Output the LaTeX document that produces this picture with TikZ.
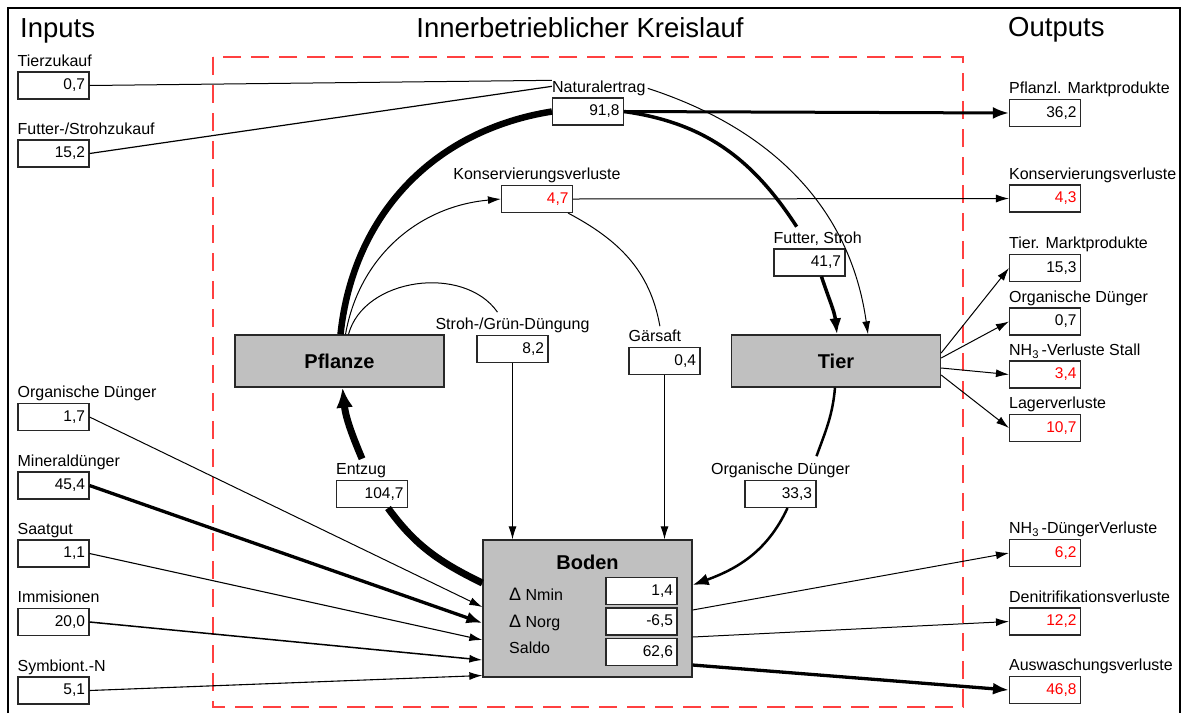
\documentclass[tikz,border=0pt]{standalone}
\usepackage{fontspec}
\setmainfont{Liberation Sans}
\usepackage{tikz}
\usetikzlibrary{arrows.meta, positioning}

\definecolor{blockgrau}{RGB}{192,192,192}
\definecolor{rahmenrot}{RGB}{255,64,64}
\definecolor{kante}{RGB}{40,40,40}

\newcommand{\delt}{{\fontsize{18}{18}\selectfont Δ}}

\tikzset{
  wert/.style={draw=kante, line width=1.1pt, fill=white, minimum width=71pt, minimum height=27pt,
    text width=63pt, align=right, inner xsep=4pt, inner ysep=0pt, font=\fontsize{15.5}{16}\selectfont},
  verlust/.style={wert, text=red},
  lbl/.style={inner sep=0pt, font=\fontsize{16}{17}\selectfont},
  titel/.style={inner sep=0pt, font=\fontsize{27.5}{29}\selectfont},
  block/.style={draw=kante, line width=1.3pt, fill=blockgrau, minimum width=209pt, minimum height=52pt,
    font=\bfseries\fontsize{20}{22}\selectfont},
  fluss/.style={line width=1pt, -{Latex[length=13pt,width=8pt]}},
  dickpfeil/.style={-{Latex[length=16pt,width=12pt]}},
}

\begin{document}
\begin{tikzpicture}[x=1pt, y=-1pt]
  \useasboundingbox (0,0) rectangle (1182,713);
  \draw[line width=2.5pt] (8,713) -- (8,8) -- (1180,8) -- (1180,713);
  \draw[rahmenrot, line width=2pt, dash pattern=on 18pt off 10pt] (213,57) rectangle (963,707);

  \node[titel, anchor=base west] (tin) at (20,37) {Inputs};
  \node[titel, anchor=base] (tkr) at (580,37) {Innerbetrieblicher Kreislauf};
  \node[titel, anchor=base west] (tout) at (1008,36) {Outputs};

  % inputs
  \node[wert] (tz) at (53.5,85.5) {0,7};
  \node[wert] (fz) at (53.5,153.5) {15,2};
  \node[wert] (od) at (53.5,417) {1,7};
  \node[wert] (md) at (53.5,485.5) {45,4};
  \node[wert] (sg) at (53.5,553.5) {1,1};
  \node[wert] (im) at (53.5,622) {20,0};
  \node[wert] (sy) at (53.5,690.5) {5,1};
  \node[lbl, above right=5pt and 0pt of tz.north west, anchor=base west] (tzl) {Tierzukauf};
  \node[lbl, above right=5pt and 0pt of fz.north west, anchor=base west] (fzl) {Futter-/Strohzukauf};
  \node[lbl, above right=5pt and 0pt of od.north west, anchor=base west] (odl) {Organische Dünger};
  \node[lbl, above right=5pt and 0pt of md.north west, anchor=base west] (mdl) {Mineraldünger};
  \node[lbl, above right=5pt and 0pt of sg.north west, anchor=base west] (sgl) {Saatgut};
  \node[lbl, above right=5pt and 0pt of im.north west, anchor=base west] (iml) {Immisionen};
  \node[lbl, above right=5pt and 0pt of sy.north west, anchor=base west] (syl) {Symbiont.-N};

  % outputs
  \node[wert] (pm) at (1045,113) {36,2};
  \node[verlust] (kv) at (1045,198.5) {4,3};
  \node[wert] (tm) at (1045,268) {15,3};
  \node[wert] (og) at (1045,321.5) {0,7};
  \node[verlust] (ns) at (1045,374.5) {3,4};
  \node[verlust] (lv) at (1045,428) {10,7};
  \node[verlust] (nd) at (1045,553) {6,2};
  \node[verlust] (dn) at (1045,621.5) {12,2};
  \node[verlust] (aw) at (1045,690) {46,8};
  \node[lbl, above right=5pt and 0pt of pm.north west, anchor=base west] (pml) {Pflanzl. Marktprodukte};
  \node[lbl, above right=5pt and 0pt of kv.north west, anchor=base west] (kvl) {Konservierungsverluste};
  \node[lbl, above right=5pt and 0pt of tm.north west, anchor=base west] (tml) {Tier. Marktprodukte};
  \node[lbl, above right=5pt and 0pt of og.north west, anchor=base west] (ogl) {Organische Dünger};
  \node[lbl, above right=5pt and 0pt of ns.north west, anchor=base west] (nsl) {NH\textsubscript{3}\,-Verluste Stall};
  \node[lbl, above right=5pt and 0pt of lv.north west, anchor=base west] (lvl) {Lagerverluste};
  \node[lbl, above right=5pt and 0pt of nd.north west, anchor=base west] (ndl) {NH\textsubscript{3}\,-DüngerVerluste};
  \node[lbl, above right=5pt and 0pt of dn.north west, anchor=base west] (dnl) {Denitrifikationsverluste};
  \node[lbl, above right=5pt and 0pt of aw.north west, anchor=base west] (awl) {Auswaschungsverluste};

  % kreislauf
  \node[wert] (na) at (588,111.5) {91,8};
  \node[verlust] (ki) at (537,199) {4,7};
  \node[wert] (fs) at (809.5,262.5) {41,7};
  \node[wert] (sd) at (512.5,349) {8,2};
  \node[wert] (gs) at (664.5,361) {0,4};
  \node[wert] (ez) at (372,494) {104,7};
  \node[wert] (om) at (780.5,494) {33,3};
  \node[lbl, above right=5pt and 0pt of na.north west, anchor=base west] (nal) {Naturalertrag};
  \node[lbl, above=5pt of ki.north, anchor=base] (kil) {Konservierungsverluste};
  \node[lbl, above right=5pt and 0pt of fs.north west, anchor=base west] (fsl) {Futter, Stroh};
  \node[lbl, above=5pt of sd.north, anchor=base] (sdl) {Stroh-/Grün-Düngung};
  \node[lbl, above right=5pt and 0pt of gs.north west, anchor=base west] (gsl) {Gärsaft};
  \node[lbl, above right=5pt and 0pt of ez.north west, anchor=base west] (ezl) {Entzug};
  \node[lbl, above=5pt of om.north, anchor=base] (oml) {Organische Dünger};

  \node[block] (pf) at (339.5,361) {Pflanze};
  \node[block] (tr) at (836,361) {Tier};
  \node[block, minimum height=137pt] (bd) at (587.5,608.5) {};
  \node[font=\bfseries\fontsize{20}{22}\selectfont, inner sep=0pt, anchor=base] (bdt) at (587.5,569) {Boden};
  \node[wert] (bd1) at (641.5,591) {1,4};
  \node[wert] (bd2) at (641.5,621.5) {-6,5};
  \node[wert] (bd3) at (641.5,652) {62,6};
  \node[lbl, anchor=base west] (bdl1) at (509,600) {\delt\ Nmin};
  \node[lbl, anchor=base west] (bdl2) at (509,627) {\delt\ Norg};
  \node[lbl, anchor=base west] (bdl3) at (509,653) {Saldo};

  % fluesse
  \draw[line width=1pt] (tz.east) -- ([yshift=8pt]nal.west);
  \draw[line width=1.2pt] (fz.east) -- ([yshift=2pt]nal.west);
  \draw[line width=6.5pt] ([xshift=1pt]pf.north) to[out=84, in=189] (na.west);
  \draw[line width=3.5pt] (na.east) to[out=-8, in=123] ([xshift=-21pt, yshift=5pt]fsl.north);
  \draw[line width=3.5pt, dickpfeil] ([xshift=12pt]fs.south) to[out=-72, in=96] ([xshift=1pt]tr.north);
  \draw[fluss] ([xshift=2pt]nal.east) to[out=-18, in=98] ([xshift=32pt]tr.north);
  \draw[line width=3pt, dickpfeil] (na.east) -- (pm.west);

  \draw[fluss] ([xshift=6pt]pf.north) to[out=80, in=185] (ki.west);
  \draw[fluss] (ki.east) -- (kv.west);
  \draw[line width=1pt] ([xshift=-5pt]ki.south east) to[out=-28, in=100] ([xshift=5pt, yshift=4pt]gsl.north);
  \draw[line width=1pt] ([xshift=9pt]pf.north) to[out=75, in=125] ([xshift=-15pt, yshift=6pt]sdl.north);
  \draw[fluss] (sd.south) -- (sd.south |- bd.north);
  \draw[fluss] (gs.south) -- (gs.south |- bd.north);

  \draw[line width=7pt] ([yshift=25.5pt]bd.west) to[out=154, in=-54] ([xshift=16pt]ez.south);
  \draw[line width=7pt, -{Latex[length=20pt,width=17pt]}] ([xshift=1pt, yshift=5pt]ezl.north) to[out=113, in=-84] ([xshift=3pt]pf.south);

  \draw[line width=2.5pt] ([xshift=-1pt]tr.south) to[out=-95, in=70] ([xshift=36pt, yshift=7pt]oml.north);
  \draw[line width=2.5pt, dickpfeil] ([xshift=7pt]om.south) to[out=-115, in=20] ([yshift=23.5pt]bd.east);

  \draw[fluss] ([yshift=8pt]tr.east) -- (tm.west);
  \draw[fluss] ([yshift=3pt]tr.east) -- (og.west);
  \draw[fluss] ([yshift=-7pt]tr.east) -- (ns.west);
  \draw[fluss] ([yshift=-14pt]tr.east) -- (lv.west);

  \draw[fluss] (od.east) -- ([yshift=1.5pt]bd.west);
  \draw[fluss, line width=3.3pt, dickpfeil] (md.east) -- ([yshift=-14.5pt]bd.west);
  \draw[fluss, line width=1.1pt] (sg.east) -- ([yshift=-31.5pt]bd.west);
  \draw[fluss, line width=1.5pt] (im.east) -- ([yshift=-51.5pt]bd.west);
  \draw[fluss, line width=1.1pt] (sy.east) -- ([yshift=-67pt]bd.west);

  \draw[fluss] ([yshift=-1.5pt]bd.east) -- (nd.west);
  \draw[fluss] ([yshift=-28.5pt]bd.east) -- (dn.west);
  \draw[fluss, line width=3.3pt, dickpfeil] ([yshift=-56.5pt]bd.east) -- (aw.west);
\end{tikzpicture}
\end{document}
